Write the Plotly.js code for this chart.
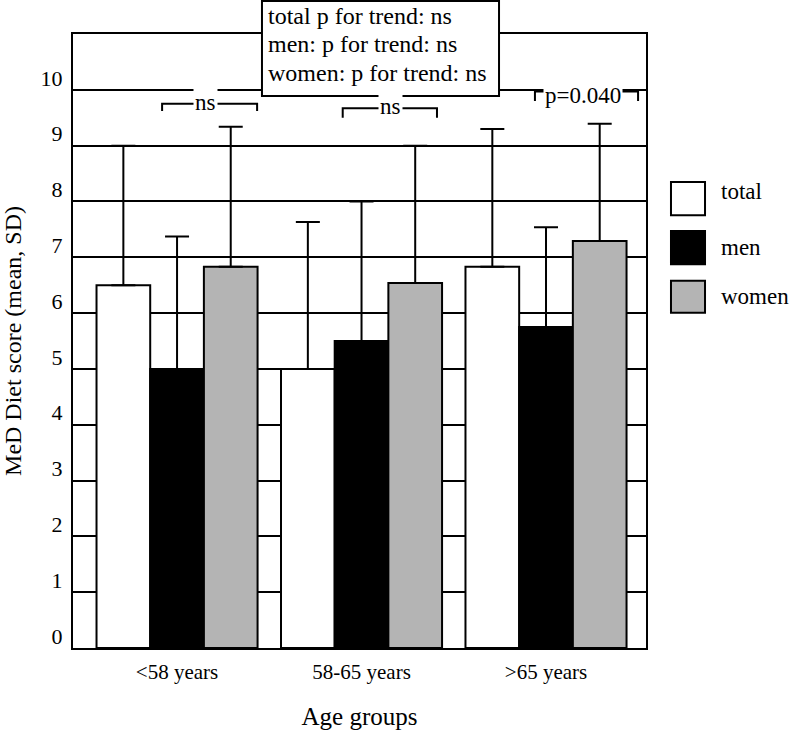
<!DOCTYPE html>
<html>
<head>
<meta charset="utf-8">
<script src="https://cdn.plot.ly/plotly-3.0.1.min.js"></script>
<style>html,body{margin:0;padding:0;background:#fff;}#chart{width:792px;height:743px;}</style>
</head>
<body>
<div id="chart"></div>
<script>
// ---- data ----
const categories = ["<58 years", "58-65 years", ">65 years"];
const seriesNames = ["total", "men", "women"];
const totalMean = [6.5, 5.0, 6.83];
const totalSD   = [2.5, 2.63, 2.47];
const menMean   = [5.0, 5.5, 5.75];
const menSD     = [2.37, 2.5, 1.79];
const womenMean = [6.83, 6.54, 7.29];
const womenSD   = [2.51, 2.46, 2.10];
const yTicks    = [0, 1, 2, 3, 4, 5, 6, 7, 8, 9, 10];
const trendLines = ["total p for trend: ns", "men: p for trend: ns", "women: p for trend: ns"];
const pairLabels = ["ns", "ns", "p=0.040"];

const FONT = "Liberation Serif, Times New Roman, serif";
const colors = ["#ffffff", "#000000", "#b4b4b4"];
const means = [totalMean, menMean, womenMean];
const sds = [totalSD, menSD, womenSD];

const traces = seriesNames.map((name, i) => ({
  type: "bar",
  name: name,
  x: [0, 1, 2],
  y: means[i],
  marker: {color: colors[i], line: {color: "#000", width: 2}},
  error_y: {type: "data", symmetric: false, array: sds[i], arrayminus: sds[i].map(() => 0),
            color: "#000", thickness: 2, width: 12},
  showlegend: false,
  hoverinfo: "skip"
}));

// bracket helper (data coords)
function bracket(x0, x1, y, yb) {
  return {type: "path", xref: "x", yref: "y",
    path: `M ${x0},${yb} L ${x0},${y} L ${x1},${y} L ${x1},${yb}`,
    line: {color: "#000", width: 2}, layer: "above"};
}

const shapes = [
  bracket(-0.081, 0.434, 9.75, 9.62),
  bracket(0.898, 1.409, 9.67, 9.50),
  bracket(1.94, 2.499, 9.97, 9.80),
  // trend box
  {type: "rect", xref: "paper", yref: "paper", x0: 0.3298, x1: 0.7435, y0: 0.899, y1: 1.0537,
   fillcolor: "#fff", line: {color: "#000", width: 2}, layer: "above"}
];

// legend swatches
const legY = [[0.705, 0.759], [0.625, 0.679], [0.546, 0.598]];
const legTextShift = [0.011, 0, 0];
legY.forEach((yy, i) => {
  shapes.push({type: "rect", xref: "paper", yref: "paper", x0: 1.0436, x1: 1.103, y0: yy[0], y1: yy[1],
    fillcolor: colors[i], line: {color: "#000", width: 2}});
});

const annotations = [];
trendLines.forEach((t, i) => {
  annotations.push({xref: "paper", yref: "paper", x: 0.3368, y: [1.029, 0.983, 0.936][i],
    xanchor: "left", yanchor: "middle", text: t, showarrow: false,
    font: {family: FONT, size: 24, color: "#000"}});
});
const pairPos = [[0.152, 9.78], [1.155, 9.70], [2.20, 9.90]];
pairLabels.forEach((t, i) => {
  annotations.push({xref: "x", yref: "y", x: pairPos[i][0], y: pairPos[i][1],
    xanchor: "center", yanchor: "middle", text: t, showarrow: false, bgcolor: "#fff", borderpad: 1,
    font: {family: FONT, size: 23, color: "#000"}});
});
seriesNames.forEach((n, i) => {
  annotations.push({xref: "paper", yref: "paper", x: 1.1274, y: (legY[i][0] + legY[i][1]) / 2 + legTextShift[i],
    xanchor: "left", yanchor: "middle", text: n, showarrow: false,
    font: {family: FONT, size: 23, color: "#000"}});
});

const layout = {
  width: 792, height: 743,
  margin: {l: 73, r: 146, t: 34, b: 95, pad: 0},
  paper_bgcolor: "#fff", plot_bgcolor: "#fff",
  barmode: "group", bargap: 0.127, bargroupgap: 0,
  font: {family: FONT, color: "#000"},
  xaxis: {
    range: [-0.564, 2.542], tickvals: [0, 1, 2], ticktext: categories,
    showgrid: false, zeroline: false, showline: true, mirror: true, linecolor: "#000", linewidth: 2,
    ticks: "", ticklabelstandoff: 4,
    tickfont: {family: FONT, size: 21, color: "#000"},
    title: {text: "Age groups", font: {family: FONT, size: 25, color: "#000"}, standoff: 24}
  },
  yaxis: {
    range: [0, 11], tickvals: yTicks, ticktext: yTicks.map(String),
    showgrid: true, gridcolor: "#000", gridwidth: 2, zeroline: false,
    showline: true, mirror: true, linecolor: "#000", linewidth: 2,
    ticks: "", ticklabelstandoff: 4, ticklabelshift: -12,
    tickfont: {family: FONT, size: 22, color: "#000"},
    title: {text: "MeD Diet score (mean, SD)", font: {family: FONT, size: 24, color: "#000"}, standoff: 18}
  },
  shapes: shapes,
  annotations: annotations,
  showlegend: false
};

Plotly.newPlot("chart", traces, layout, {displayModeBar: false, staticPlot: true});
</script>
</body>
</html>
